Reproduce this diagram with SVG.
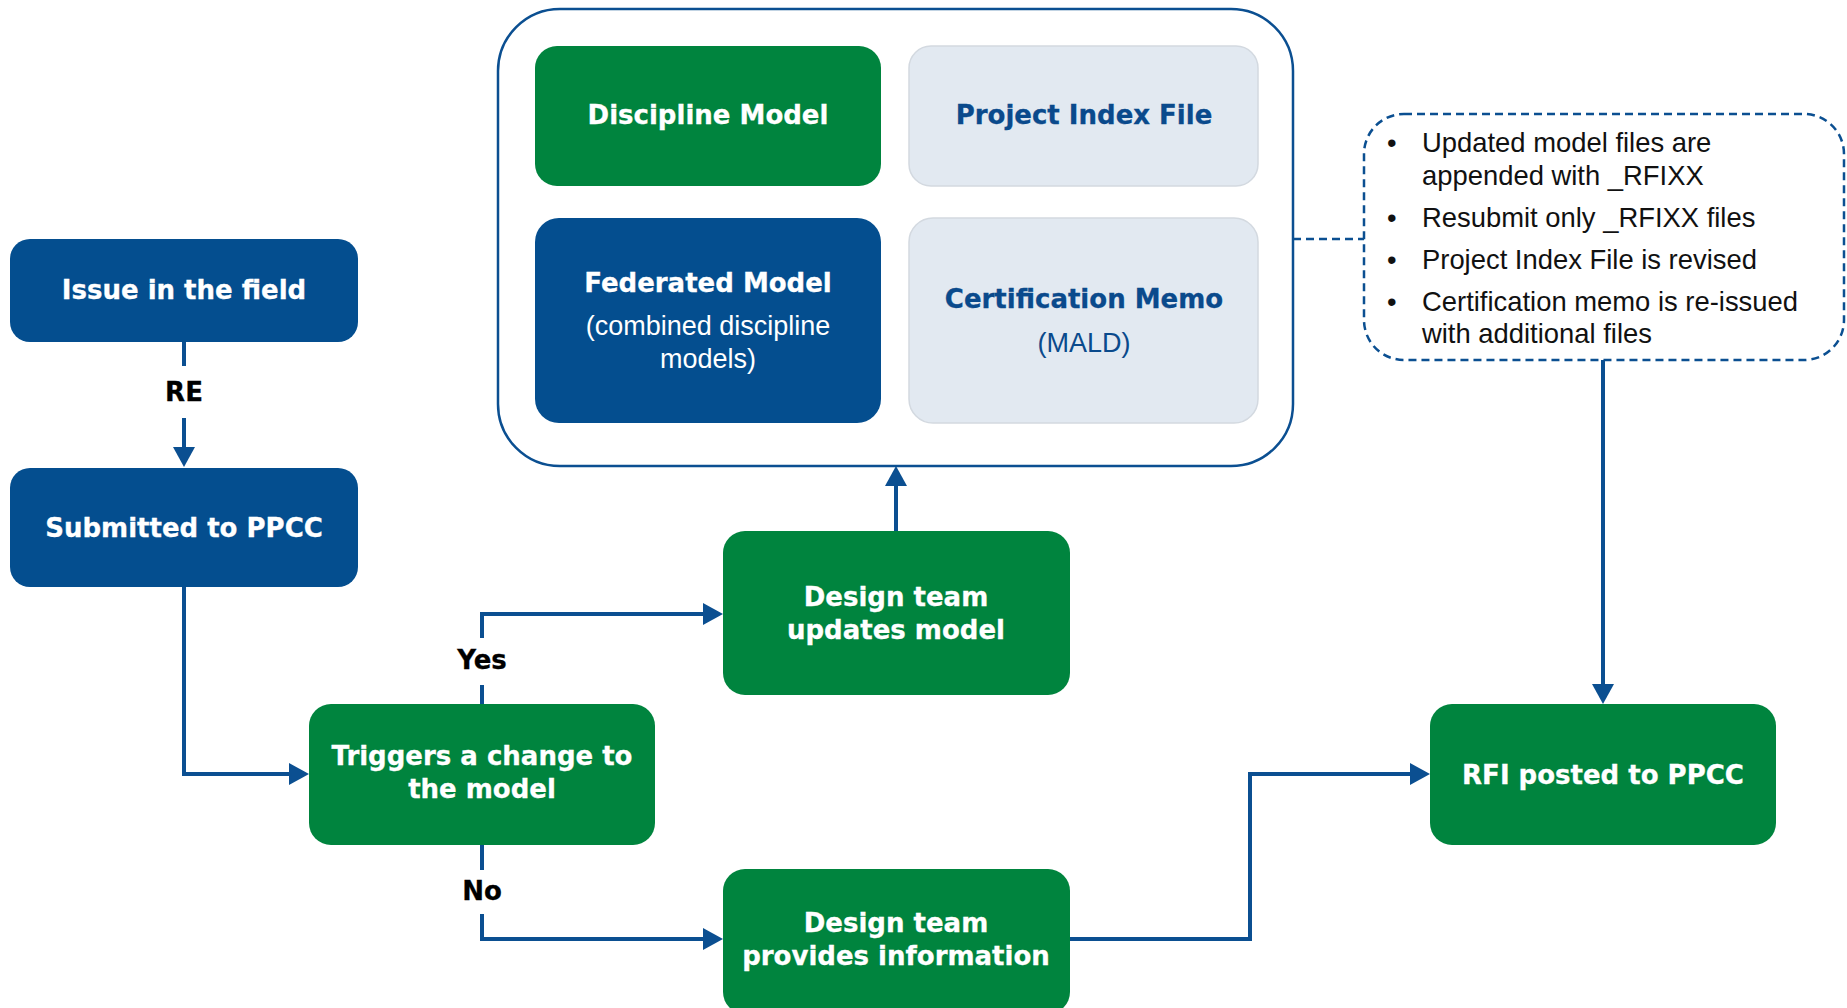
<svg xmlns="http://www.w3.org/2000/svg" width="1847" height="1008" viewBox="0 0 1847 1008">
<defs>
<style>
.blue{fill:#044e8f}
.green{fill:#00843e}
.light{fill:#e2e9f1;stroke:#d3d9e0;stroke-width:1.5}
.hb{font-family:"DejaVu Sans","Liberation Sans",sans-serif;font-weight:bold;font-size:26px;text-anchor:middle;stroke-width:0.3}
.w{fill:#ffffff;stroke:#ffffff}
.bt{fill:#0a4a8c;stroke:#0a4a8c}
.k{fill:#000000;stroke:#000000}
.reg{font-family:"Liberation Sans",Arial,sans-serif;font-size:27px;text-anchor:middle;stroke:none}
.bul{font-family:"Liberation Sans",Arial,sans-serif;font-size:27.4px;fill:#111111}
.con{fill:none;stroke:#0b4f91;stroke-width:4}
.dash{fill:none;stroke:#0b4f91;stroke-width:2.5;stroke-dasharray:8 5}
</style>
<marker id="ah" markerWidth="20" markerHeight="22" refX="4" refY="11" orient="auto" markerUnits="userSpaceOnUse">
<path d="M0,0 L20,11 L0,22 Z" fill="#0b4f91"/>
</marker>
</defs>
<rect width="1847" height="1008" fill="#ffffff"/>

<g id="container">
<rect x="498" y="9" width="795" height="457" rx="62" fill="#ffffff" stroke="#0b4f91" stroke-width="2.5"/>
</g>
<g id="discipline-model">
<rect class="green" x="535" y="46" width="346" height="140" rx="22"/>
<text class="hb w" x="708" y="124">Discipline Model</text>
</g>
<g id="project-index-file">
<rect class="light" x="909" y="46" width="349" height="140" rx="22"/>
<text class="hb bt" x="1084" y="124">Project Index File</text>
</g>
<g id="federated-model">
<rect class="blue" x="535" y="218" width="346" height="205" rx="24"/>
<text class="hb w" x="708" y="292">Federated Model</text>
<text class="reg w" x="708" y="335">(combined discipline</text>
<text class="reg w" x="708" y="368">models)</text>
</g>
<g id="certification-memo">
<rect class="light" x="909" y="218" width="349" height="205" rx="24"/>
<text class="hb bt" x="1084" y="308">Certification Memo</text>
<text class="reg bt" x="1084" y="352">(MALD)</text>
</g>

<g id="notes">
<rect x="1364" y="114" width="480" height="246" rx="40" fill="#ffffff" class="dash"/>
<text class="bul" x="1387" y="152">•</text>
<text class="bul" x="1422" y="152">Updated model files are</text>
<text class="bul" x="1422" y="185">appended with _RFIXX</text>
<text class="bul" x="1387" y="227">•</text>
<text class="bul" x="1422" y="227">Resubmit only _RFIXX files</text>
<text class="bul" x="1387" y="269">•</text>
<text class="bul" x="1422" y="269">Project Index File is revised</text>
<text class="bul" x="1387" y="311">•</text>
<text class="bul" x="1422" y="311">Certification memo is re-issued</text>
<text class="bul" x="1422" y="343">with additional files</text>
</g>

<g id="issue">
<rect class="blue" x="10" y="239" width="348" height="103" rx="20"/>
<text class="hb w" x="184" y="299">Issue in the field</text>
</g>
<g id="submitted">
<rect class="blue" x="10" y="468" width="348" height="119" rx="20"/>
<text class="hb w" x="184" y="537">Submitted to PPCC</text>
</g>
<g id="triggers">
<rect class="green" x="309" y="704" width="346" height="141" rx="22"/>
<text class="hb w" x="482" y="765">Triggers a change to</text>
<text class="hb w" x="482" y="798">the model</text>
</g>
<g id="design-updates">
<rect class="green" x="723" y="531" width="347" height="164" rx="22"/>
<text class="hb w" x="896" y="606">Design team</text>
<text class="hb w" x="896" y="639">updates model</text>
</g>
<g id="design-provides">
<rect class="green" x="723" y="869" width="347" height="145" rx="22"/>
<text class="hb w" x="896" y="932">Design team</text>
<text class="hb w" x="896" y="965">provides information</text>
</g>
<g id="rfi">
<rect class="green" x="1430" y="704" width="346" height="141" rx="22"/>
<text class="hb w" x="1603" y="784">RFI posted to PPCC</text>
</g>

<g id="connectors">
<path class="con" d="M184,342 V366"/>
<path class="con" d="M184,418 V451" marker-end="url(#ah)"/>
<text class="hb k" x="184" y="401">RE</text>
<path class="con" d="M184,587 V774 H293" marker-end="url(#ah)"/>
<path class="con" d="M482,704 V685"/>
<path class="con" d="M482,638 V614 H707" marker-end="url(#ah)"/>
<text class="hb k" x="482" y="669">Yes</text>
<path class="con" d="M482,845 V870"/>
<path class="con" d="M482,914 V939 H707" marker-end="url(#ah)"/>
<text class="hb k" x="482" y="900">No</text>
<path class="con" d="M896,531 V482" marker-end="url(#ah)"/>
<path class="con" d="M1070,939 H1250 V774 H1414" marker-end="url(#ah)"/>
<path class="dash" d="M1293,239 H1364"/>
<path class="con" d="M1603,360 V688" marker-end="url(#ah)"/>
</g>
</svg>
